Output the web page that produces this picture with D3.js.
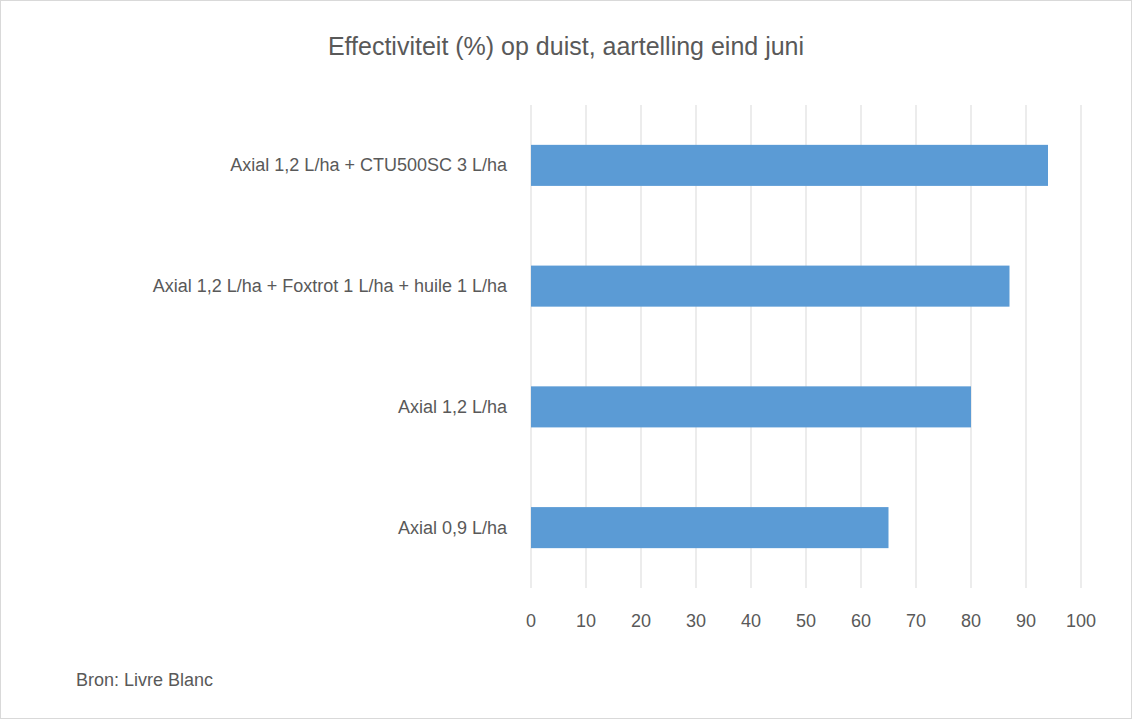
<!DOCTYPE html>
<html><head><meta charset="utf-8">
<script src="https://cdn.jsdelivr.net/npm/d3@7"></script>
<style>
  body { margin: 0; background: #fff; }
  svg { font-family: "Liberation Sans", "DejaVu Sans", sans-serif; }
</style>
</head><body>
<svg id="chart" width="1132" height="719"></svg>
<script>
const categories = [
  "Axial 1,2 L/ha + CTU500SC 3 L/ha",
  "Axial 1,2 L/ha + Foxtrot 1 L/ha + huile 1 L/ha",
  "Axial 1,2 L/ha",
  "Axial 0,9 L/ha"
];
const values = [94, 87, 80, 65];
const ticks = [0, 10, 20, 30, 40, 50, 60, 70, 80, 90, 100];

const svg = d3.select("#chart");
svg.append("rect").attr("x", 0.5).attr("y", 0.5).attr("width", 1131).attr("height", 718)
  .attr("fill", "#fff").attr("stroke", "#d9d9d9");

const x = d3.scaleLinear().domain([0, 100]).range([531, 1081]);
const y = d3.scaleBand().domain(categories).range([105, 588]).paddingInner(0.66).paddingOuter(0.33);

// gridlines
svg.append("g").selectAll("line").data(ticks).join("line")
  .attr("x1", d => x(d)).attr("x2", d => x(d))
  .attr("y1", 105).attr("y2", 588)
  .attr("stroke", "#d9d9d9").attr("stroke-width", 1);

// bars
svg.append("g").selectAll("rect").data(values).join("rect")
  .attr("x", x(0)).attr("y", (d, i) => y(categories[i]))
  .attr("width", d => x(d) - x(0)).attr("height", y.bandwidth())
  .attr("fill", "#5b9bd5");

// x tick labels
svg.append("g").selectAll("text").data(ticks).join("text")
  .attr("x", d => x(d)).attr("y", 627).attr("text-anchor", "middle")
  .attr("font-size", 18).attr("fill", "#595959").text(d => d);

// category labels
svg.append("g").selectAll("text").data(categories).join("text")
  .attr("x", 507).attr("y", d => y(d) + y.bandwidth() / 2 + 6)
  .attr("text-anchor", "end").attr("font-size", 18).attr("fill", "#595959").text(d => d);

svg.append("text").attr("x", 566).attr("y", 55).attr("text-anchor", "middle")
  .attr("font-size", 25).attr("fill", "#595959")
  .text("Effectiviteit (%) op duist, aartelling eind juni");

svg.append("text").attr("x", 76).attr("y", 686)
  .attr("font-size", 18).attr("fill", "#595959").text("Bron:  Livre Blanc");
</script>
</body></html>
